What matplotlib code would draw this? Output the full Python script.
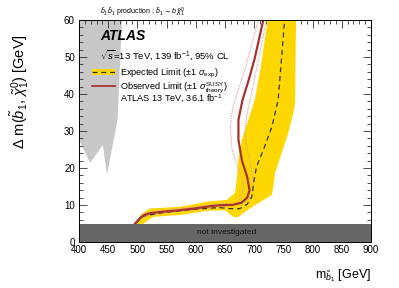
import matplotlib
matplotlib.use("Agg")
import matplotlib.pyplot as plt
from matplotlib.patches import Patch
from matplotlib.lines import Line2D
from matplotlib.legend import Legend
from matplotlib.ticker import MultipleLocator
from matplotlib.transforms import ScaledTranslation

plt.rcParams['font.family'] = ['Liberation Sans', 'DejaVu Sans']
plt.rcParams['mathtext.fontset'] = 'custom'
plt.rcParams['mathtext.rm'] = 'Liberation Sans'
plt.rcParams['mathtext.it'] = 'Liberation Sans:italic'
plt.rcParams['mathtext.bf'] = 'Liberation Sans:bold'

# ---- data ----
# previous ATLAS 36.1 fb-1 excluded region (outline)
prev_x = [380, 473.6, 469, 466, 448, 441, 419, 400, 380]
prev_y = [60, 60, 43.8, 33, 18.1, 26.2, 21.4, 27.6, 27.6]

# expected +-1 sigma band (closed outline)
band_x = [497, 504.5, 521.6, 572.9, 618.7, 652.9, 667, 670, 672.8, 678.6, 689.9, 701, 712, 723,
          771.6, 770, 767, 758.4, 747.1, 735.6, 732.7, 730, 707, 690, 672.8, 670,
          664.2, 650, 618.7, 572.9, 527.2, 510, 497]
band_y = [4.0, 7.3, 9.1, 9.5, 10.9, 11.4, 13.2, 16.8, 22.2, 27.6, 33.0, 38.4, 48, 60,
          60, 37.6, 34.9, 29.5, 24.1, 18.6, 14.9, 12.7, 10.5, 8.8, 6.8, 6.7,
          6.8, 8.6, 8.4, 7.3, 6.8, 5.0, 4.0]

# expected limit
exp_x = [497, 510, 545, 600, 640, 660, 675, 688, 696, 699, 704, 716, 730, 741, 747, 752]
exp_y = [5.0, 7.0, 8.0, 8.9, 9.3, 9.0, 9.0, 10.2, 12.2, 16.0, 20.4, 25.0, 31.0, 38.4, 50.0, 60.0]

# observed limit
obs_x = [496, 505, 512, 522, 545, 573, 600, 630, 650, 662, 678, 688, 692, 688, 679, 673, 673, 680, 691, 701, 715.6]
obs_y = [5.0, 6.5, 7.3, 7.8, 8.2, 8.6, 9.1, 9.8, 10.0, 10.0, 10.6, 12.0, 14.0, 17.6, 22.0, 27.6, 33.0, 38.4, 44.0, 49.7, 60.0]

# observed -1 sigma theory
obsm_x = [497, 510, 545, 600, 650, 668, 678, 682, 679, 670, 662, 659, 662, 667, 683, 707]
obsm_y = [5.0, 6.9, 7.8, 8.7, 9.6, 10.2, 12.0, 15.0, 17.6, 21.0, 25.0, 31.0, 35.0, 38.4, 46.0, 60.0]

# observed +1 sigma theory
obsp_x = [495, 510, 545, 600, 650, 668, 685, 695, 699, 696, 688, 684, 687, 693, 703, 721]
obsp_y = [5.0, 7.7, 8.6, 9.5, 10.4, 10.1, 10.9, 12.5, 15.0, 19.0, 25.0, 29.5, 34.0, 38.4, 46.0, 60.0]

not_inv = 5.0

fig = plt.figure(figsize=(3.99, 2.88), dpi=100)
ax = fig.add_axes([79/399, 46/288, 292/399, 222/288])

ax.fill(prev_x, prev_y, color='#c8c8c8', lw=0, zorder=1)
ax.fill(band_x, band_y, color='#ffd700', lw=0, zorder=2)
ax.plot(obsm_x, obsm_y, color='#e39a9a', lw=0.8, ls=(0, (1, 1)), zorder=3)
ax.plot(obsp_x, obsp_y, color='#e39a9a', lw=0.8, ls=(0, (1, 1)), zorder=3)
ax.plot(exp_x, exp_y, color='#333333', lw=0.9, ls=(0, (4, 3)), zorder=4)
ax.plot(obs_x, obs_y, color='#a83232', lw=1.6, zorder=5)
ax.axhspan(0, not_inv, color='#666666', lw=0, zorder=6)
ax.text(652, 2.7, 'not investigated', fontsize=6, ha='center', va='center', color='#111111', zorder=7)

ax.set_xlim(400, 900)
ax.set_ylim(0, 60)
ax.xaxis.set_major_locator(MultipleLocator(50))
ax.xaxis.set_minor_locator(MultipleLocator(10))
ax.yaxis.set_major_locator(MultipleLocator(10))
ax.yaxis.set_minor_locator(MultipleLocator(2))
ax.tick_params(which='both', direction='in', top=True, right=True, labelsize=7, width=0.6, color='#333333')
ax.tick_params(axis='x', pad=2.0)
ax.tick_params(axis='y', pad=3.0)
ax.tick_params(which='major', length=6)
ax.tick_params(which='minor', length=3)
for s in ax.spines.values():
    s.set_linewidth(0.7)
    s.set_zorder(10)

ax.text(0.072, 0.93, 'ATLAS', transform=ax.transAxes, fontsize=10, fontweight='bold', style='italic', va='center', ha='left')
ax.text(0.072, 0.84, r'$\sqrt{s}$=13 TeV, 139 fb$^{-1}$, 95% CL', transform=ax.transAxes, fontsize=6.8, va='center', ha='left')

handles = [
    (Patch(facecolor='#ffd700', edgecolor='none'), Line2D([], [], color='#333333', lw=0.9, ls=(0, (4, 3)))),
    Line2D([], [], color='#a83232', lw=1.3),
    Patch(facecolor='#c8c8c8', edgecolor='none'),
]
labels = [
    r'Expected Limit ($\pm 1\ \sigma_{\rm exp}$)',
    r'Observed Limit ($\pm 1\ \sigma^{\rm SUSY}_{\rm theory}$)',
    r'ATLAS 13 TeV, 36.1 fb$^{-1}$',
]
row_y = [0.761, 0.697, 0.643]
hh = [0.7, 0.7, 1.1]
for h, lab, yy, hgt in zip(handles, labels, row_y, hh):
    lg = Legend(ax, [h], [lab], loc='center left', bbox_to_anchor=(0.044, yy), frameon=False,
                fontsize=6.6, borderpad=0, handlelength=2.55, handleheight=hgt, handletextpad=0.55,
                borderaxespad=0)
    lg.set_zorder(8)
    ax.add_artist(lg)

fig.text(100/399, 1 - 12/288, r'$\tilde{b}_1\,\tilde{b}_1$ production ; $\tilde{b}_1 \rightarrow b\,\tilde{\chi}^0_1$',
         fontsize=5, ha='left', va='center')
fig.text(20/399, 1 - 92/288, r'$\Delta$ m($\tilde{b}_1$, $\tilde{\chi}^0_1$) [GeV]', rotation=90,
         fontsize=10.5, ha='center', va='center')
fig.text(371/399, 1 - 276/288, r'm$_{\tilde{b}_1}$ [GeV]', fontsize=9, ha='right', va='center')

fig.canvas.draw()
lab0 = ax.yaxis.get_major_ticks()[0].label1
lab0.set_transform(lab0.get_transform() + ScaledTranslation(0, 3/72, fig.dpi_scale_trans))
fig.savefig('out.png', dpi=100)
